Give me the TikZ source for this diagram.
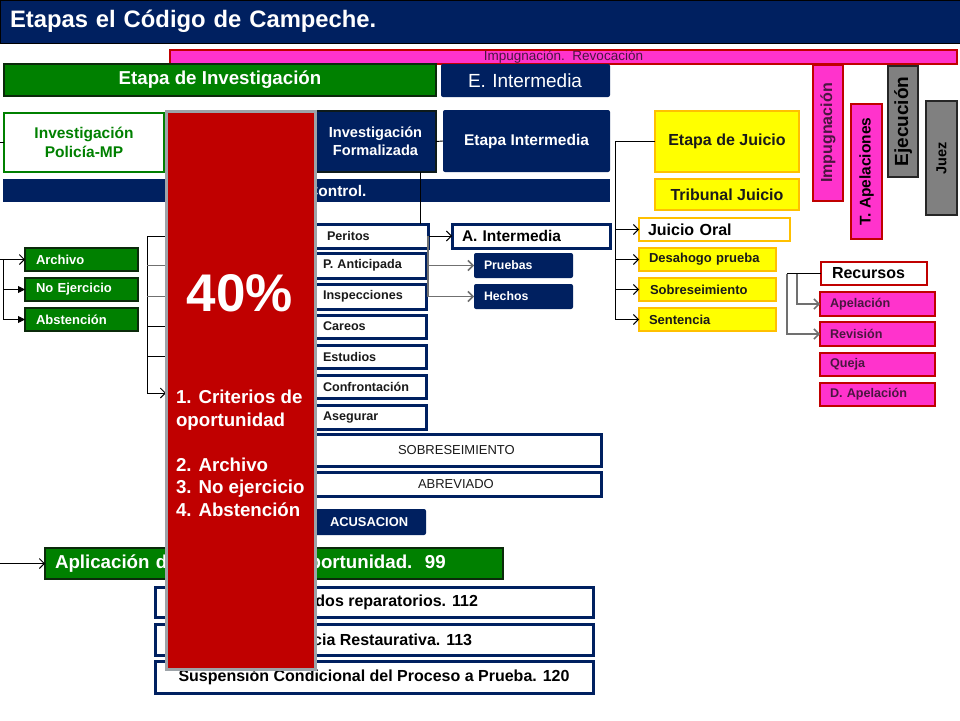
\documentclass[tikz,border=0pt]{standalone}
\usepackage{fontspec}
\setmainfont{Liberation Sans}
\usetikzlibrary{arrows.meta}
\definecolor{navy}{HTML}{002060}
\definecolor{grn}{HTML}{008000}
\definecolor{grnb}{HTML}{0B2A0B}
\definecolor{redb}{HTML}{C00000}
\definecolor{redgray}{HTML}{9DA3A8}
\definecolor{pnk}{HTML}{FF33CC}
\definecolor{pnkb}{HTML}{C00000}
\definecolor{ptext}{HTML}{4A1640}
\definecolor{yel}{HTML}{FFFF00}
\definecolor{org}{HTML}{FFC000}
\definecolor{gry}{HTML}{808080}
\definecolor{gryb}{HTML}{262626}
\definecolor{txt}{HTML}{1A1A1A}
\definecolor{lgray}{HTML}{707070}
\definecolor{fborder}{HTML}{0D1A1A}
\newcommand\fs[2]{\fontsize{#1pt}{#2pt}\selectfont}
\newcommand\bx[7][]{\pgfmathsetlengthmacro\bxw{#5pt-#3pt}\pgfmathsetlengthmacro\bxh{#6pt-#4pt}\node[anchor=north west,minimum width=\bxw,minimum height=\bxh,#1] (#2) at (#3,#4) {#7};}
\newcommand\bxl[8][]{\pgfmathsetlengthmacro\bxw{#5pt-#3pt}\pgfmathsetlengthmacro\bxh{#6pt-#4pt}\node[anchor=north west,text width=\bxw,minimum height=\bxh,align=left,#1] (#2) at (#3,#4) {\hspace*{#7pt}#8};}
\begin{document}
\begin{tikzpicture}[x=1pt,y=-1pt,
 every node/.style={inner sep=0pt,outer sep=0pt},
 navybox/.style={fill=navy,text=white},
 greenbox/.style={fill=grn,draw=grnb,line width=2.5pt,text=white},
 wnavy/.style={fill=white,draw=navy,line width=3pt,text=txt},
 ybox/.style={fill=yel,draw=org,line width=2.5pt,text=txt},
 pbox/.style={fill=pnk,draw=pnkb,line width=2.5pt,text=ptext},
 graybox/.style={fill=gry,draw=gryb,line width=2.5pt,text=black},
 conn/.style={draw=black,line width=0.9pt},
 gconn/.style={draw=lgray,line width=1.5pt},
 oarr/.style={-{Straight Barb[length=5pt,width=10pt]}},
 farr/.style={-{Triangle[length=7pt,width=7pt]}}]
\useasboundingbox (0,0) rectangle (960,720);
\fill[white] (0,0) rectangle (960,720);
% title
\bxl[fill=navy,draw=black,line width=1pt,text=white,font=\bfseries\fs{23.8}{28}]{title}{0}{0}{960}{43}{10}{Etapas el Código de Campeche.}
% right column vertical boxes
\node[graybox,rotate=90,minimum width=111pt,minimum height=30pt,font=\bfseries\fs{19}{22}] (ejec) at (903,121.5) {Ejecución};
\node[graybox,rotate=90,minimum width=114pt,minimum height=31pt,font=\bfseries\fs{14.5}{17}] (juez) at (941.5,158) {Juez};
\node[pbox,rotate=90,minimum width=136pt,minimum height=30pt,font=\bfseries\fs{16}{18}] (impv) at (828,133) {Impugnación};
\node[pbox,text=black,rotate=90,minimum width=135pt,minimum height=31pt,font=\bfseries\fs{15.5}{18}] (tap) at (866.5,171.5) {T. Apelaciones};
% pink bar
\bx[pbox,line width=2pt,font=\fs{13.5}{16}]{impbar}{170}{50}{957}{64}{Impugnación.\ \ Revocación}
% stage headers
\bx[greenbox,font=\bfseries\fs{18.7}{22}]{etinv}{4}{64}{436}{96}{Etapa de Investigación}
\bxl[navybox,rounded corners=2pt,font=\fs{19}{22}]{eint}{441}{64}{610}{97}{27}{E. Intermedia}
% row 2
\bx[fill=white,draw=grn,line width=2.5pt,text=grn,font=\bfseries\fs{15.5}{18.5},align=center]{ipmp}{4}{113}{164}{172}{Investigación\\Policía-MP}
\bx[navybox,draw=fborder,line width=2.5pt,font=\bfseries\fs{14.6}{18},align=center]{ifor}{315}{111}{436}{172}{Investigación\\Formalizada}
\bx[navybox,rounded corners=2pt,font=\bfseries\fs{15.5}{18}]{eti}{443}{110}{610}{172}{Etapa Intermedia}
\bx[navybox,font=\bfseries\fs{15.4}{18}]{control}{3}{179}{610}{202}{Juez de Control.}
% juicio
\bx[ybox,font=\bfseries\fs{16}{18}]{ejui}{655}{111}{799}{172}{Etapa de Juicio}
\bx[ybox,font=\bfseries\fs{16}{18}]{trib}{655}{179}{799}{210}{Tribunal Juicio}
\bxl[fill=white,draw=org,line width=2.5pt,text=black,font=\bfseries\fs{16}{18}]{joral}{639}{218}{790}{241}{9}{Juicio Oral}
\bxl[ybox,font=\bfseries\fs{13}{15}]{desa}{639}{248}{776}{271}{10}{Desahogo prueba}
\bxl[ybox,font=\bfseries\fs{13}{15}]{sobj}{639}{278}{776}{301}{11}{Sobreseimiento}
\bxl[ybox,font=\bfseries\fs{13}{15}]{sent}{639}{308}{776}{331}{10}{Sentencia}
% recursos
\bxl[fill=white,draw=pnkb,line width=2.5pt,text=black,font=\bfseries\fs{16}{18}]{recur}{821}{262}{927}{285}{11}{Recursos}
\bxl[pbox,font=\bfseries\fs{12.6}{15}]{apel}{820}{292}{935}{316}{10}{Apelación}
\bxl[pbox,font=\bfseries\fs{12.6}{15}]{revi}{820}{322}{935}{346}{10}{Revisión}
\bxl[pbox,font=\bfseries\fs{12.6}{15}]{queja}{820}{353}{935}{376}{10}{Queja}
\bxl[pbox,font=\bfseries\fs{12.6}{15}]{dapel}{820}{383}{935}{406}{10}{D. Apelación}
% intermedia
\bxl[wnavy,text=black,font=\bfseries\fs{15.5}{18}]{aint}{452}{224}{610}{248}{10}{A. Intermedia}
\bxl[navybox,rounded corners=2pt,font=\bfseries\fs{12.3}{15}]{prue}{474}{253}{573}{278}{10}{Pruebas}
\bxl[navybox,rounded corners=2pt,font=\bfseries\fs{12.3}{15}]{hech}{474}{284}{573}{309}{10}{Hechos}
% left column green
\bxl[greenbox,font=\bfseries\fs{13}{15}]{arch}{25}{248}{138}{271}{11}{Archivo}
\bxl[greenbox,font=\bfseries\fs{13}{15}]{noej}{25}{278}{138}{301}{11}{No Ejercicio}
\bxl[greenbox,font=\bfseries\fs{13}{15}]{abst}{25}{308}{138}{331}{11}{Abstención}
% list boxes
\bxl[wnavy,font=\bfseries\fs{12.6}{15}]{peri}{170}{224}{428}{248}{157}{Peritos}
\bxl[wnavy,font=\bfseries\fs{12.6}{15}]{pant}{170}{253}{426}{278}{153}{P. Anticipada}
\bxl[wnavy,font=\bfseries\fs{12.6}{15}]{insp}{170}{284}{426}{309}{153}{Inspecciones}
\bxl[wnavy,font=\bfseries\fs{12.6}{15}]{care}{170}{315}{426}{338}{153}{Careos}
\bxl[wnavy,font=\bfseries\fs{12.6}{15}]{estu}{170}{345}{426}{368}{153}{Estudios}
\bxl[wnavy,font=\bfseries\fs{12.6}{15}]{conf}{170}{375}{426}{398}{153}{Confrontación}
\bxl[wnavy,font=\bfseries\fs{12.6}{15}]{aseg}{170}{405}{426}{429}{153}{Asegurar}
\bxl[wnavy,font=\fs{13}{15}]{sobre}{200}{434}{601}{466}{198}{SOBRESEIMIENTO}
\bxl[wnavy,font=\fs{13}{15}]{abre}{200}{472}{601}{496}{218}{ABREVIADO}
\bxl[navybox,rounded corners=2pt,font=\bfseries\fs{12.9}{15}]{acus}{200}{509}{426}{535}{130}{ACUSACION}
% criterios
\bxl[greenbox,font=\bfseries\fs{18.7}{22}]{aplic}{45}{548}{503}{579}{10}{Aplicación de Criterios de Oportunidad.\ \ 99}
\bx[wnavy,text=black,font=\bfseries\fs{16}{18}]{acue}{155}{587}{593}{617}{Acuerdos reparatorios. 112}
\bx[wnavy,text=black,font=\bfseries\fs{16}{18}]{just}{155}{624}{593}{655}{Justicia Restaurativa. 113}
\bx[wnavy,text=black,font=\bfseries\fs{16}{18}]{susp}{155}{661}{593}{693}{Suspensión Condicional del Proceso a Prueba. 120}
% connectors
\coordinate (c0) at (0,142.5);
\draw[conn] (c0) -- (ipmp.west);
\draw[conn] (ifor.east) -- (eti.west);
\draw[conn] ([xshift=44.5pt]ifor.south) -- ([xshift=44.5pt]ifor.south |- peri.north);
\draw[conn,oarr] (peri.east) -- (aint.west);
\draw[gconn,oarr] (peri.east) |- (prue.west);
\draw[gconn,oarr] (peri.east) |- (hech.west);
\coordinate (jv) at ([xshift=-40pt]ejui.west);
\draw[conn] (ejui.west) -- (jv) -- (jv |- sent.west);
\draw[conn,oarr] (jv |- joral.west) -- (joral.west);
\draw[conn,oarr] (jv |- desa.west) -- (desa.west);
\draw[conn,oarr] (jv |- sobj.west) -- (sobj.west);
\draw[conn,oarr] (jv |- sent.west) -- (sent.west);
\coordinate (rv) at ([xshift=-34pt]recur.west);
\coordinate (rv2) at ([xshift=-24pt]recur.west);
\draw[conn] (recur.west) -- (rv);
\draw[gconn,oarr] (rv) |- (revi.west);
\draw[gconn,oarr] (rv2) |- (apel.west);
\coordinate (lvt) at ([xshift=-23pt]peri.west);
\coordinate (la) at (166,393);
\draw[conn] (lvt) -- (lvt |- la);
\draw[conn] (lvt) -- (peri.west);
\draw[gconn] (lvt |- pant.west) -- (pant.west);
\draw[gconn] (lvt |- insp.west) -- (insp.west);
\draw[conn] (lvt |- care.west) -- (care.west);
\draw[conn] (lvt |- estu.west) -- (estu.west);
\draw[conn,oarr] (lvt |- la) -- (la);
\coordinate (a0) at (0,259.5);
\coordinate (a1) at (3,259.5);
\draw[conn,oarr] (a0) -- (arch.west);
\draw[conn] (a1) -- (a1 |- abst.west);
\draw[conn,farr] (a1 |- noej.west) -- (noej.west);
\draw[conn,farr] (a1 |- abst.west) -- (abst.west);
\coordinate (ap0) at (0,563.5);
\draw[conn,oarr] (ap0) -- (aplic.west);
% red overlay
\bx[fill=redb,draw=redgray,line width=3pt]{red}{166}{111}{315}{669}{}
\node[text=white,font=\bfseries\fs{53}{60}] (pct) at (240,293) {40\%};
\node[anchor=north west,text=white,font=\bfseries\fs{18.7}{22.5},align=left] (lista) at (176,390) {1. Criterios de\\oportunidad\\[22.5pt]2. Archivo\\3. No ejercicio\\4. Abstención};
\end{tikzpicture}
\end{document}
